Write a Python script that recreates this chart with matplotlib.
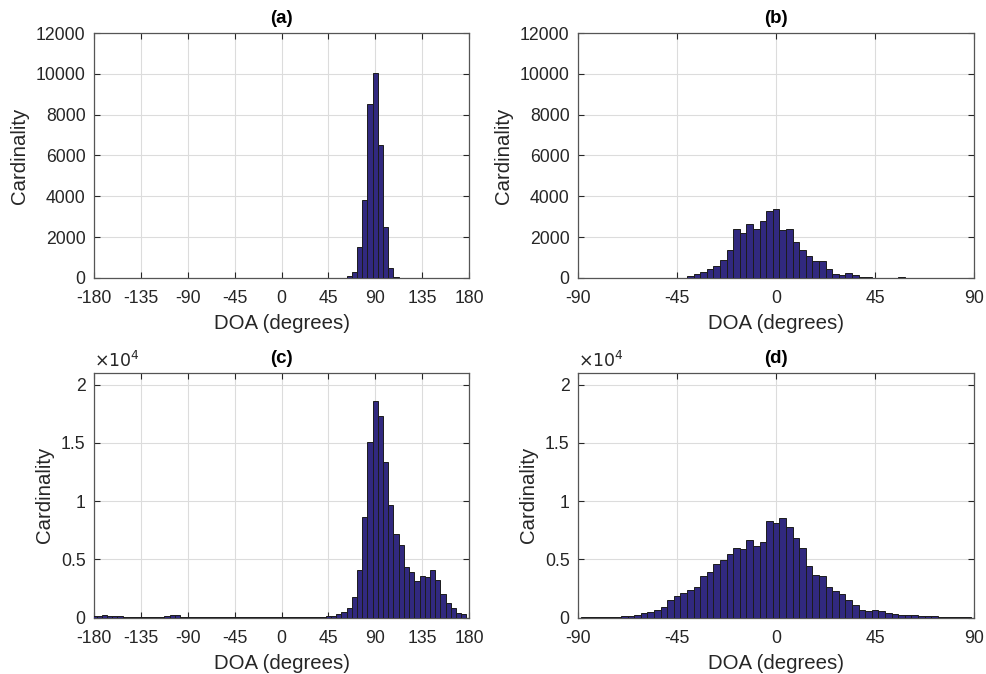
import numpy as np
import matplotlib
matplotlib.use("Agg")
import matplotlib.pyplot as plt

plt.rcParams['font.family'] = ['Liberation Sans', 'DejaVu Sans']
plt.rcParams['axes.unicode_minus'] = False

# ---- histogram data (bin centres in degrees, counts) ----
# (a) and (c): 5-degree bins over the full circle
wide_centres = list(range(-180, 181, 5))
counts_a = [0] * len(wide_centres)
peak_a = {60: 20, 65: 80, 70: 300, 75: 1530, 80: 3800, 85: 8500, 90: 10050,
          95: 6500, 100: 2500, 105: 500, 110: 60, 115: 10}
for c, v in peak_a.items():
    counts_a[wide_centres.index(c)] = v

counts_c = [150, 170, 180, 170, 150, 100, 60, 50, 40, 30, 30, 40, 50, 60,
            120, 180, 200, 60, 40, 30, 30, 40, 60, 40, 30, 30, 30, 30, 30,
            30, 30, 30, 30, 30, 30, 30, 40, 50, 50, 50, 60, 60, 60, 70, 80,
            100, 170, 285, 456, 855, 1795, 4074, 8633, 15071, 18633, 17294,
            13390, 9658, 7208, 6268, 4330, 3875, 3134, 3533, 3504, 4074,
            3191, 1994, 1254, 798, 399, 313, 0]

# (b) and (d): 3-degree bins over the front half-plane
narrow_centres = list(range(-90, 91, 3))
counts_b = [0] * len(narrow_centres)
peak_b = {-42: 10, -39: 82, -36: 180, -33: 280, -30: 425, -27: 570,
          -24: 865, -21: 1370, -18: 2400, -15: 2190, -12: 2645, -9: 2420,
          -6: 2810, -3: 3300, 0: 3380, 3: 2335, 6: 2420, 9: 1780, 12: 1355,
          15: 1080, 18: 850, 21: 850, 24: 425, 27: 180, 30: 160, 33: 230,
          36: 130, 39: 65, 42: 30, 45: 20, 57: 25}
for c, v in peak_b.items():
    counts_b[narrow_centres.index(c)] = v

counts_d = [0, 10, 20, 25, 30, 40, 57, 86, 143, 229, 400, 514, 657, 943,
            1514, 1857, 2143, 2371, 2657, 3571, 3914, 4600, 4943, 5457,
            5971, 5914, 6657, 6171, 6486, 8285, 8114, 8514, 7743, 6857,
            5943, 4400, 3686, 3543, 2657, 2286, 2000, 1543, 1086, 686, 571,
            628, 600, 428, 286, 257, 200, 200, 143, 86, 86, 57, 57, 30, 20,
            10, 0]

wide_ticks = [-180, -135, -90, -45, 0, 45, 90, 135, 180]
narrow_ticks = [-90, -45, 0, 45, 90]
small_yticks = [0, 2000, 4000, 6000, 8000, 10000, 12000]
big_yticks = [0, 5000, 10000, 15000, 20000]
big_yticklabels = ['0', '0.5', '1', '1.5', '2']

BAR_FACE = '#31297f'
BAR_EDGE = '#1c1c1c'
AX_COL = '#262626'

W, H = 986, 674
fig = plt.figure(figsize=(W / 100, H / 100), dpi=100)


def px_axes(x0, y0, x1, y1):
    return fig.add_axes([x0 / W, 1 - y1 / H, (x1 - x0) / W, (y1 - y0) / H])


def style(ax, xlim, xticks, ylim, yticks, title, yticklabels=None):
    ax.set_xlim(*xlim)
    ax.set_ylim(*ylim)
    ax.set_xticks(xticks)
    ax.set_yticks(yticks)
    if yticklabels is not None:
        ax.set_yticklabels(yticklabels)
    ax.grid(True, color='#dcdcdc', linewidth=0.8)
    ax.set_axisbelow(True)
    ax.tick_params(direction='in', length=4, width=0.8, colors=AX_COL,
                   labelsize=12.7, top=True, right=True)
    ax.tick_params(axis='x', pad=9)
    ax.tick_params(axis='y', pad=6)
    for s in ax.spines.values():
        s.set_color('#555555')
        s.set_linewidth(0.9)
    ax.set_xlabel('DOA (degrees)', fontsize=14.7, color=AX_COL, labelpad=5)
    ax.set_ylabel('Cardinality', fontsize=14.7, color=AX_COL, labelpad=5)
    ax.set_title(title, fontsize=13.5, fontweight='bold', pad=7, color='black')


def bars(ax, centres, counts, width):
    ax.bar(centres, counts, width=width, color=BAR_FACE, edgecolor=BAR_EDGE,
           linewidth=0.7, zorder=3, clip_on=True)


ax_a = px_axes(94, 33, 469, 278)
bars(ax_a, wide_centres, counts_a, 5)
style(ax_a, (-180, 180), wide_ticks, (0, 12000), small_yticks, '(a)')

ax_b = px_axes(578, 33, 974, 278)
bars(ax_b, narrow_centres, counts_b, 3)
style(ax_b, (-90, 90), narrow_ticks, (0, 12000), small_yticks, '(b)')

ax_c = px_axes(94, 373, 469, 617.5)
bars(ax_c, wide_centres, counts_c, 5)
style(ax_c, (-180, 180), wide_ticks, (0, 21000), big_yticks, '(c)',
      big_yticklabels)
ax_c.text(0, 1.012, r'$\times10^{4}$', transform=ax_c.transAxes,
          fontsize=12.5, color=AX_COL, ha='left', va='bottom')

ax_d = px_axes(578, 373, 974, 617.5)
bars(ax_d, narrow_centres, counts_d, 3)
style(ax_d, (-90, 90), narrow_ticks, (0, 21000), big_yticks, '(d)',
      big_yticklabels)
ax_d.text(0, 1.012, r'$\times10^{4}$', transform=ax_d.transAxes,
          fontsize=12.5, color=AX_COL, ha='left', va='bottom')

fig.savefig('out.png', dpi=100, facecolor='white')
